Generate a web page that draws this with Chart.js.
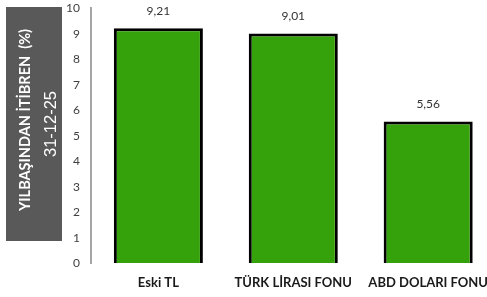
<!DOCTYPE html>
<html>
<head>
<meta charset="utf-8">
<script src="https://cdn.jsdelivr.net/npm/chart.js@4.4.1/dist/chart.umd.min.js"></script>
<style>
  html, body { margin: 0; padding: 0; background: #fff; overflow: hidden; }
  canvas { display: block; }
</style>
</head>
<body>
<canvas id="chart" width="500" height="297"></canvas>
<script>
// values
const categories = ["Eski TL", "TÜRK LİRASI FONU", "ABD DOLARI FONU"];
const returns = [9.21, 9.01, 5.56];
const axisTitle = ["YILBAŞINDAN İTİBREN  (%)", "31-12-25"];

const FONT = "Lato, 'Open Sans', sans-serif";

// grey box with the rotated axis title
const titleBox = {
    id: "titleBox",
    beforeDraw(chart) {
        const ctx = chart.ctx;
        ctx.save();
        ctx.fillStyle = "#595959";
        ctx.fillRect(6, 7, 56, 234);
        ctx.fillStyle = "#ffffff";
        ctx.textAlign = "center";
        ctx.textBaseline = "middle";
        ctx.translate(25, 120);
        ctx.rotate(-Math.PI / 2);
        ctx.font = "bold 14.5px " + FONT;
        ctx.fillText(axisTitle[0], 0, 0);
        ctx.restore();

        ctx.save();
        ctx.fillStyle = "#ffffff";
        ctx.textAlign = "center";
        ctx.textBaseline = "middle";
        ctx.translate(51, 124);
        ctx.rotate(-Math.PI / 2);
        ctx.font = "16.5px 'Liberation Sans', Arial, sans-serif";
        ctx.fillText(axisTitle[1], 0, 0);
        ctx.restore();
    }
};

// value labels above the bars
const valueLabels = {
    id: "valueLabels",
    afterDatasetsDraw(chart) {
        const ctx = chart.ctx;
        const meta = chart.getDatasetMeta(0);
        ctx.save();
        ctx.fillStyle = "#333333";
        ctx.font = "12px " + FONT;
        ctx.textAlign = "center";
        ctx.textBaseline = "middle";
        meta.data.forEach((bar, i) => {
            const v = chart.data.datasets[0].data[i];
            ctx.fillText(v.toFixed(2).replace(".", ","), bar.x, bar.y - 17);
        });
        ctx.restore();
    }
};

new Chart(document.getElementById("chart"), {
    type: "bar",
    data: {
        labels: categories,
        datasets: [{
            data: returns,
            backgroundColor: "#36a20b",
            borderColor: "#000000",
            borderWidth: 3,
            barPercentage: 0.66,
            categoryPercentage: 1,
        }],
    },
    options: {
        responsive: false,
        animation: false,
        layout: { padding: { left: 65, top: 0, right: 0, bottom: -6 } },
        plugins: {
            legend: { display: false },
            tooltip: { enabled: false },
        },
        scales: {
            x: {
                grid: { display: false, drawTicks: false },
                border: { display: false },
                ticks: {
                    padding: 12,
                    color: "#1a1a1a",
                    font: { family: FONT, size: 13, weight: "bold" },
                },
            },
            y: {
                min: 0,
                max: 10,
                grid: {
                    display: true,
                    drawOnChartArea: false,
                    drawTicks: true,
                    tickLength: 10,
                    color: "rgba(0,0,0,0)",
                },
                border: { display: true, color: "#a6a6a6", width: 2 },
                ticks: {
                    stepSize: 1,
                    padding: 1,
                    color: "#404040",
                    font: { family: FONT, size: 12 },
                },
            },
        },
    },
    plugins: [titleBox, valueLabels],
});
</script>
</body>
</html>
